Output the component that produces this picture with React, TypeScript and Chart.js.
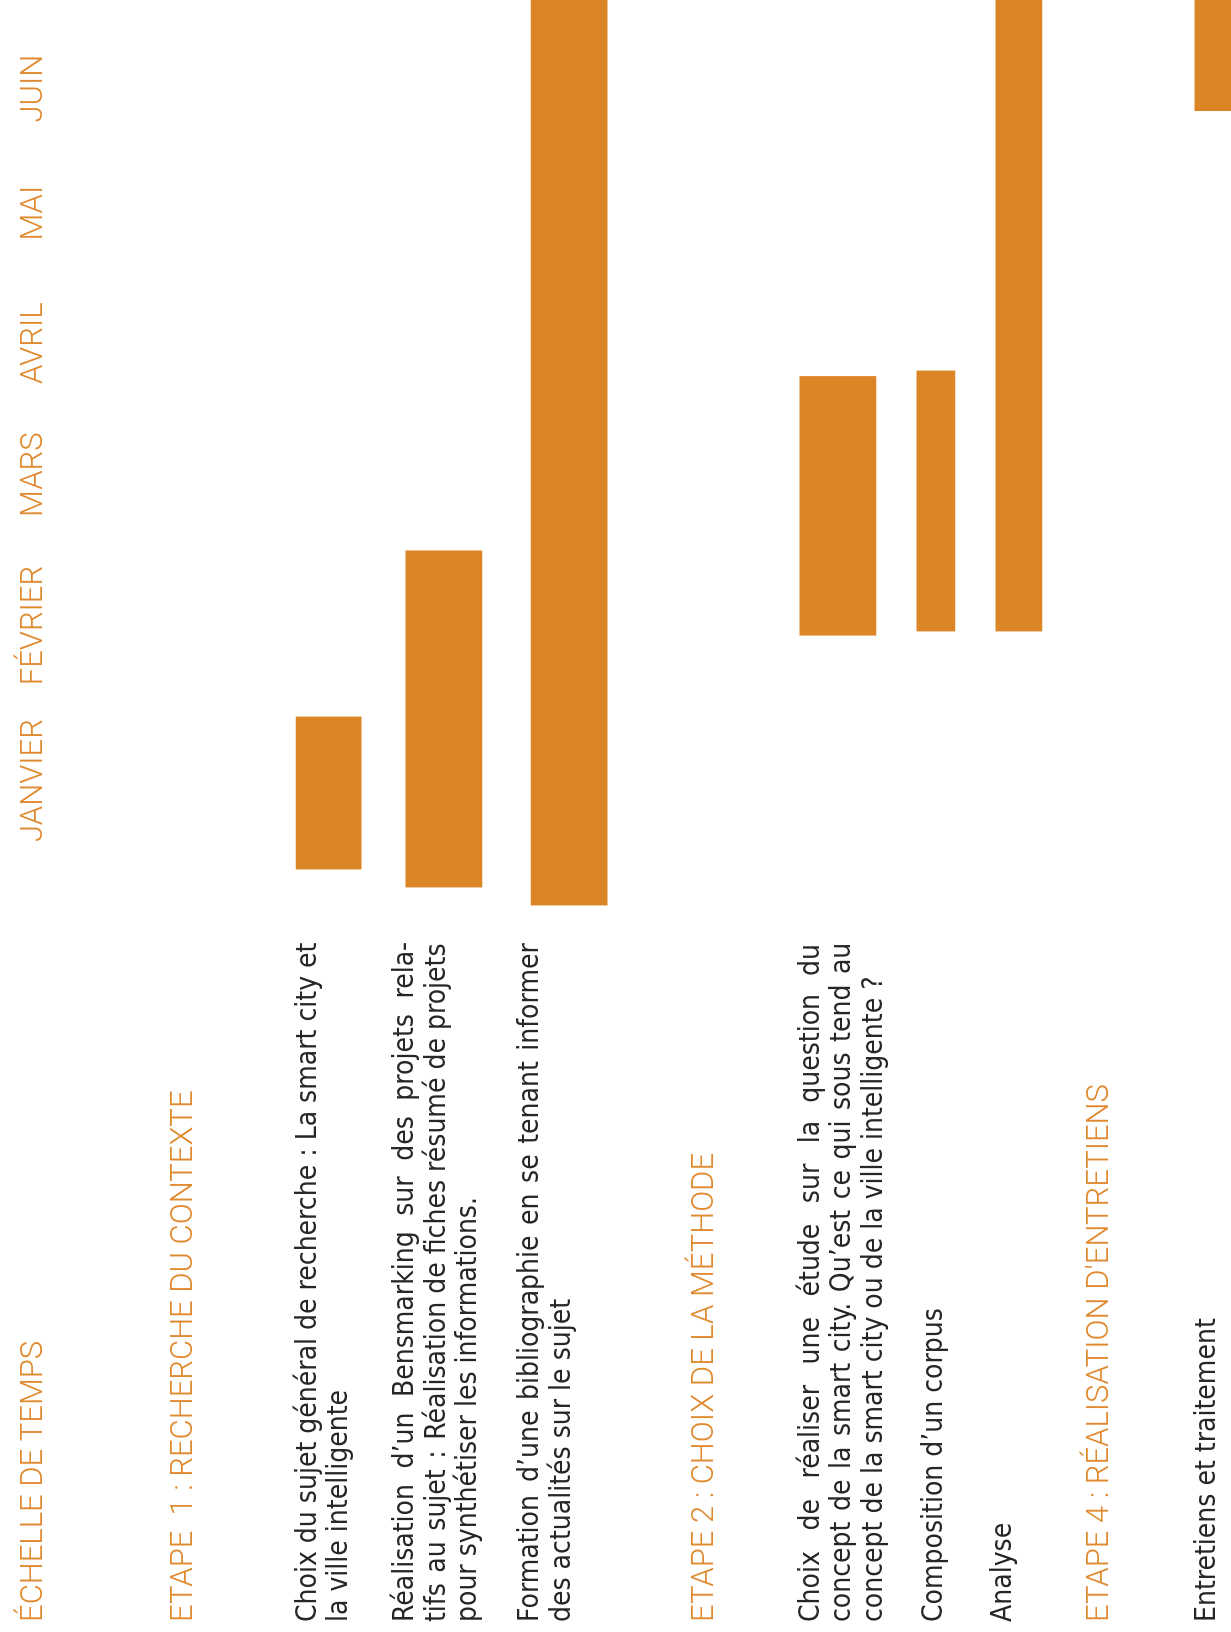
import React, { useEffect, useRef } from "react";
import { Chart, registerables } from "chart.js";

Chart.register(...registerables);

// ---------- data ----------
const AXIS_TITLE = "ÉCHELLE DE TEMPS";
const MONTHS = ["JANVIER", "FÉVRIER", "MARS", "AVRIL", "MAI", "JUIN"];
// where each month label sits on the time axis (months since 1 January)
const MONTH_LABEL_AT = [0.5, 1.62, 2.71, 3.66, 4.6, 5.5];

const ROW_LABELS: string[][] = [
  ["ETAPE  1 : RECHERCHE DU CONTEXTE"],
  ["Choix du sujet général de recherche : La smart city et", "la ville intelligente"],
  [
    "Réalisation d’un Bensmarking sur des projets rela-",
    "tifs au sujet : Réalisation de fiches résumé de projets",
    "pour synthétiser les informations.",
  ],
  ["Formation d’une bibliographie en se tenant informer", "des actualités sur le sujet"],
  ["ETAPE 2 : CHOIX DE LA MÉTHODE"],
  [
    "Choix de réaliser une étude sur la question du",
    "concept de la smart city. Qu’est ce qui sous tend au",
    "concept de la smart city ou de la ville intelligente ?",
  ],
  ["Composition d’un corpus"],
  ["Analyse"],
  ["ETAPE 4 : RÉALISATION D'ENTRETIENS"],
  ["Entretiens et traitement"],
];
const ROW_IS_HEADER = [true, false, false, false, true, false, false, false, true, false];
// row axis position of each label
const ROW_AT = [4.22, 9.0, 12.87, 16.61, 22.02, 26.74, 29.88, 32.24, 35.52, 39.21];

const TASKS = [
  "Choix du sujet",
  "Bensmarking",
  "Bibliographie",
  "Choix de la méthode",
  "Corpus",
  "Analyse",
  "Entretiens",
];
// months since 1 January
const TASK_START = [-0.14, -0.27, -0.4, 1.55, 1.58, 1.58, 5.34];
const TASK_END = [0.96, 2.16, 6.3, 3.42, 3.46, 6.3, 6.3];
// row axis position of each bar
const TASK_ROW = [9.15, 13.09, 17.37, 26.56, 29.91, 32.75, 39.38];

// ---------- styles ----------
const BAR_THICKNESS_PX = [65, 76, 76, 76, 38, 46, 36];
const ORANGE = "#DC8527";
const ORANGE_TEXT = "#E08A30";
const INK = "#262626";
const ORANGE_FONT = { family: "Roboto, Lato, sans-serif", size: 31, weight: "300", lineHeight: 1.2 };
const BODY_FONT = {
  family: "'Liberation Sans Narrow', 'DejaVu Sans Condensed', Roboto, sans-serif",
  size: 28,
  weight: "normal",
  lineHeight: 1.125,
};
const JUSTIFY_WIDTH = 678;
const HAIR = "\u200A";

const W = 1632;
const H = 1231;

// justify every line of a paragraph but the last one, like the printed original
function justifyParagraph(ctx: CanvasRenderingContext2D, lines: string[]): string[] {
  return lines.map((line, li) => {
    if (li === lines.length - 1) return line;
    const words = line.split(" ");
    if (words.length < 2) return line;
    const gaps = words.slice(0, -1).map(() => " ");
    const build = () => words.map((w, i) => w + (i < gaps.length ? gaps[i] : "")).join("");
    let k = 0;
    while (ctx.measureText(build()).width < JUSTIFY_WIDTH && k < 600) {
      gaps[k % gaps.length] += HAIR;
      k++;
    }
    return build();
  });
}

export default function App() {
  const ref = useRef<HTMLCanvasElement>(null);

  useEffect(() => {
    document.documentElement.style.margin = "0";
    document.body.style.margin = "0";
    document.body.style.overflow = "hidden";
    const canvas = ref.current;
    if (!canvas) return;

    const measure = document.createElement("canvas").getContext("2d")!;
    measure.font = `${BODY_FONT.weight} ${BODY_FONT.size}px ${BODY_FONT.family}`;
    const shownLabels = ROW_LABELS.map((lines, i) =>
      ROW_IS_HEADER[i] ? lines : justifyParagraph(measure, lines)
    );

    const chart = new Chart(canvas, {
      type: "bar",
      data: {
        datasets: TASKS.map((name, i) => ({
          label: name,
          data: [{ x: [TASK_START[i], TASK_END[i]], y: TASK_ROW[i] }],
          backgroundColor: ORANGE,
          borderWidth: 0,
          barThickness: BAR_THICKNESS_PX[i],
          grouped: false,
        })) as any,
      },
      options: {
        animation: false,
        responsive: false,
        indexAxis: "y",
        layout: { padding: { left: 10, right: 0, top: 0, bottom: 0 } },
        plugins: { legend: { display: false }, tooltip: { enabled: false } },
        scales: {
          x: {
            type: "linear",
            position: "top",
            min: -5.58,
            max: 6.14,
            bounds: "data",
            grid: { display: false, drawTicks: false },
            border: { display: false },
            afterBuildTicks: (scale: any) => {
              scale.ticks = MONTH_LABEL_AT.map((v) => ({ value: v }));
            },
            afterFit: (scale: any) => {
              scale.height = 61;
              scale.paddingLeft = 0;
              scale.paddingRight = 0;
              scale.paddingTop = 0;
              scale.paddingBottom = 0;
            },
            ticks: {
              autoSkip: false,
              maxRotation: 0,
              minRotation: 0,
              padding: 8,
              color: ORANGE_TEXT,
              font: ORANGE_FONT as any,
              callback: (_v: any, i: number) => MONTHS[i],
            },
            title: {
              display: true,
              text: AXIS_TITLE,
              align: "start",
              color: ORANGE_TEXT,
              font: ORANGE_FONT as any,
              padding: { top: 16, bottom: 0 },
            },
          },
          y: {
            type: "linear",
            reverse: true,
            min: 0,
            max: 40,
            bounds: "data",
            offset: false,
            grid: { display: false, drawTicks: false },
            border: { display: false },
            afterBuildTicks: (scale: any) => {
              scale.ticks = ROW_AT.map((v) => ({ value: v }));
            },
            afterFit: (scale: any) => {
              scale.width = 0;
              scale.paddingLeft = 0;
              scale.paddingRight = 0;
              scale.paddingTop = 0;
              scale.paddingBottom = 0;
            },
            ticks: {
              mirror: true,
              padding: 0,
              autoSkip: false,
              color: (ctx: any) => (ROW_IS_HEADER[ctx.index] ? ORANGE_TEXT : INK),
              font: ((ctx: any) => (ROW_IS_HEADER[ctx.index] ? ORANGE_FONT : BODY_FONT)) as any,
              callback: (_v: any, i: number) => shownLabels[i],
            },
          },
        },
      },
    });
    return () => chart.destroy();
  }, []);

  return (
    <div
      style={{
        position: "absolute",
        left: 0,
        top: 0,
        width: W,
        height: H,
        background: "#ffffff",
        transformOrigin: "0 0",
        transform: `translateY(${W}px) rotate(-90deg)`,
      }}
    >
      <canvas ref={ref} width={W} height={H} style={{ width: W, height: H, display: "block" }} />
    </div>
  );
}
